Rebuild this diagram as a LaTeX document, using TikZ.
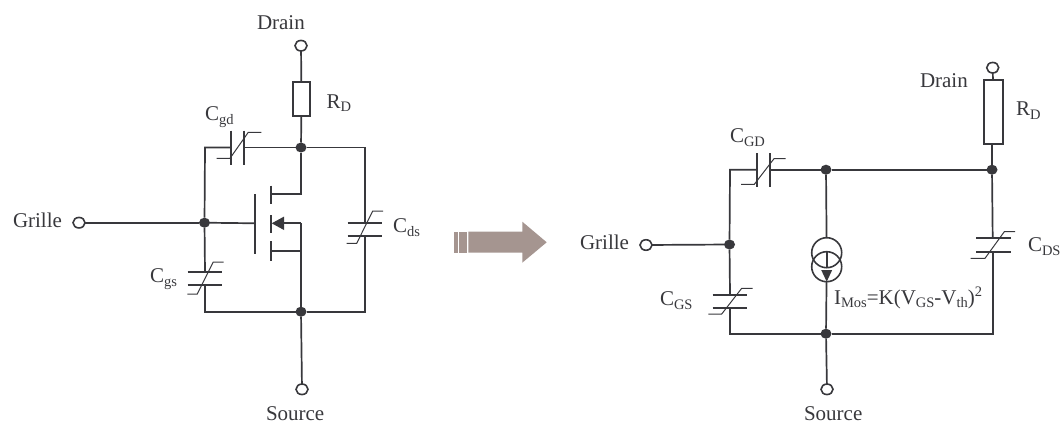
\documentclass[tikz,border=0pt]{standalone}
\usepackage{fontspec}
\setmainfont{Liberation Serif}
\usetikzlibrary{shapes.geometric}
\definecolor{ink}{HTML}{38383C}
\definecolor{arrowfill}{HTML}{A59590}
\newcommand{\sbs}[1]{\raisebox{-3.5pt}{\fontsize{14.5}{14.5}\selectfont #1}}
\newcommand{\sps}[1]{\raisebox{8pt}{\fontsize{14.5}{14.5}\selectfont #1}}
\tikzset{
  wire/.style={draw=ink,line width=1.7pt,line join=miter},
  plate/.style={draw=ink,line width=1.8pt},
  thinw/.style={draw=ink,line width=1pt},
  lbl/.style={anchor=base west,inner sep=0pt,outer sep=0pt,text=ink,font=\fontsize{21}{21}\selectfont},
  term/.style={ellipse,draw=ink,line width=1.6pt,fill=white,minimum width=12pt,minimum height=10.5pt,inner sep=0pt,outer sep=0pt},
  dot/.style={ellipse,fill=ink,draw=none,minimum width=11pt,minimum height=10pt,inner sep=0pt,outer sep=0pt},
  resbox/.style={rectangle,draw=ink,line width=1.8pt,fill=white,inner sep=0pt,outer sep=0pt},
  cs/.style={circle,draw=ink,line width=1.6pt,minimum size=30pt,inner sep=0pt,outer sep=0pt},
  block/.style={fill=arrowfill,draw=none}
}
\begin{document}
\begin{tikzpicture}[x=1pt,y=-1pt]
\useasboundingbox (0,0) rectangle (1064,423);
%% LEFT CIRCUIT
\node[term] (dl) at (301,45.7) {};
\node[term] (gl) at (79,222.7) {};
\node[term] (sl) at (302,389.3) {};
\node[dot] (jt) at (301,147.5) {};
\node[dot] (jg) at (204.5,222.7) {};
\node[dot] (jb) at (301,311.7) {};
\node[resbox,minimum width=17.6pt,minimum height=34pt] (rl) at (301.5,98.7) {};
\coordinate (tl) at (205,147.5);
\coordinate (tr) at (364.7,147.5);
\coordinate (bl) at (205,311.7);
\coordinate (br) at (364.7,311.7);
\coordinate (cgdA) at (231.3,147.5);
\coordinate (cgdB) at (244,147.5);
\coordinate (cgsA) at (205,272.3);
\coordinate (cgsB) at (205,285.3);
\coordinate (cdsA) at (364.7,223.3);
\coordinate (cdsB) at (364.7,236);
\coordinate (gate) at (255.3,223.3);
\coordinate (md) at (270.7,194);
\coordinate (mdc) at (301,194);
\coordinate (ms) at (284,223.3);
\coordinate (msc) at (301,223.3);
\coordinate (mb) at (270.7,251);
\coordinate (mbc) at (301,251);
\draw[wire] (dl) -- (rl);
\draw[wire] (rl) -- (jt);
\draw[wire] (jt) -- (tr) -- (cdsA);
\draw[wire] (cdsB) -- (br) -- (jb);
\draw[wire] (jt) -- (cgdB);
\draw[wire] (cgdA) -- (tl) -- (jg);
\draw[wire] (jg) -- (cgsA);
\draw[wire] (cgsB) -- (bl) -- (jb);
\draw[wire] (gl) -- (jg);
\draw[wire] (jg) -- (gate);
\draw[wire] (jb) -- (sl);
\draw[wire] (jt) -- (mdc) -- (md);
\draw[wire] (ms) -- (msc);
\draw[wire] (msc) -- (jb);
\draw[wire] (mb) -- (mbc);
\draw[draw=ink,line width=2.4pt] (301,260) -- (301,285);
\draw[plate] (255.3,194) -- (255.3,254);
\draw[plate] (270.7,185.7) -- (270.7,204.3);
\draw[plate] (270.7,215) -- (270.7,233.3);
\draw[plate] (270.7,241) -- (270.7,260.7);
\fill[ink] (271.7,223.3) -- (284,216.6) -- (284,230) -- cycle;
% Cgd
\draw[plate] (231.3,130.7) -- (231.3,164.7);
\draw[plate] (244,130.7) -- (244,164.7);
\draw[thinw] (216.7,158.3) -- (230,158.3) -- (248.3,132.3) -- (261.3,132.3);
% Cgs
\draw[plate] (187.7,272.3) -- (222.3,272.3);
\draw[plate] (187.7,285.3) -- (222.3,285.3);
\draw[thinw] (187.3,294) -- (197.3,294) -- (213.3,262) -- (223.7,262);
% Cds
\draw[plate] (347.7,223.3) -- (382.3,223.3);
\draw[plate] (347.7,236) -- (382.3,236);
\draw[thinw] (346.7,243.3) -- (356.7,243.3) -- (372.7,211) -- (383,211);
% labels left
\node[lbl] (tdl) at (257,29.3) {Drain};
\node[lbl] (trl) at (326.7,108.3) {R\sbs{D}};
\node[lbl] (tcgd) at (205,120.7) {C\sbs{gd}};
\node[lbl] (tgl) at (13,227) {Grille};
\node[lbl] (tcds) at (393,232.7) {C\sbs{ds}};
\node[lbl] (tcgs) at (150,282.7) {C\sbs{gs}};
\node[lbl] (tsl) at (266,420.5) {Source};
%% BIG ARROW
\fill[block] (454,231.7) rectangle (458.3,252.7);
\fill[block] (459.3,231.7) rectangle (466.7,252.7);
\fill[block] (468.3,231.7) -- (522.3,231.7) -- (522.3,221.7) -- (546.7,242.3) -- (522.3,262.7) -- (522.3,252.7) -- (468.3,252.7) -- cycle;
%% RIGHT CIRCUIT
\node[term] (dr) at (992.7,67.7) {};
\node[term] (gr) at (646,245) {};
\node[term] (sr) at (827,389.3) {};
\node[dot] (kt) at (992,169.7) {};
\node[dot] (km) at (826,169.7) {};
\node[dot] (kg) at (729.5,244.5) {};
\node[dot] (kb) at (826,333.7) {};
\node[resbox,minimum width=19.3pt,minimum height=63.7pt] (rr) at (993.6,112.2) {};
\node[cs] (cs1) at (826.7,252.7) {};
\node[cs] (cs2) at (826.7,266.7) {};
\coordinate (utl) at (730,169.7);
\coordinate (ubl) at (730,333.7);
\coordinate (ubr) at (992.7,333.7);
\coordinate (cGDa) at (757,169.7);
\coordinate (cGDb) at (769.7,169.7);
\coordinate (cGSa) at (730,294.7);
\coordinate (cGSb) at (730,307.7);
\coordinate (cDSa) at (992.7,238.3);
\coordinate (cDSb) at (992.7,251.7);
\coordinate (cstip) at (826.7,281.7);
\draw[wire] (dr) -- (rr);
\draw[wire] (rr.south -| kt) -- (kt);
\draw[wire] (kt) -- (km);
\draw[wire] (km) -- (cGDb);
\draw[wire] (cGDa) -- (utl) -- (kg);
\draw[wire] (kg) -- (cGSa);
\draw[wire] (cGSb) -- (ubl) -- (kb);
\draw[wire] (kb) -- (ubr) -- (cDSb);
\draw[wire] (kt) -- (cDSa);
\draw[wire] (gr) -- (kg);
\draw[wire] (km) -- (cs1);
\draw[wire] (cs2) -- (kb);
\draw[wire] (kb) -- (sr);
\draw[wire] (cs1.south) -- (cs2.north);
\fill[ink] (cstip) -- (821.2,270) -- (832.2,270) -- cycle;
% CGD
\draw[plate] (757,153.3) -- (757,186.7);
\draw[plate] (769.7,153.3) -- (769.7,186.7);
\draw[thinw] (741,184.3) -- (754.3,184.3) -- (774,158.7) -- (785.7,158.7);
% CGS
\draw[plate] (712.7,294.7) -- (747.3,294.7);
\draw[plate] (712.7,307.7) -- (747.3,307.7);
\draw[thinw] (708.3,314) -- (721.7,314) -- (741.7,288.3) -- (752.7,288.3);
% CDS
\draw[plate] (976,238.3) -- (1010.7,238.3);
\draw[plate] (976,251.7) -- (1010.7,251.7);
\draw[thinw] (970.7,258.3) -- (985,258.3) -- (1004.3,231.7) -- (1015,231.7);
% labels right
\node[lbl] (tdr) at (920,87.3) {Drain};
\node[lbl] (trr) at (1016,115.7) {R\sbs{D}};
\node[lbl] (tcGD) at (730,142.7) {C\sbs{GD}};
\node[lbl] (tgr) at (580,249.3) {Grille};
\node[lbl] (tcDS) at (1028,251.7) {C\sbs{DS}};
\node[lbl] (tcGS) at (660,305.7) {C\sbs{GS}};
\node[lbl] (tI) at (834,304) {I\sbs{Mos}=K(V\sbs{GS}-V\sbs{th})\sps{2}};
\node[lbl] (tsr) at (804,420.5) {Source};
\end{tikzpicture}
\end{document}
